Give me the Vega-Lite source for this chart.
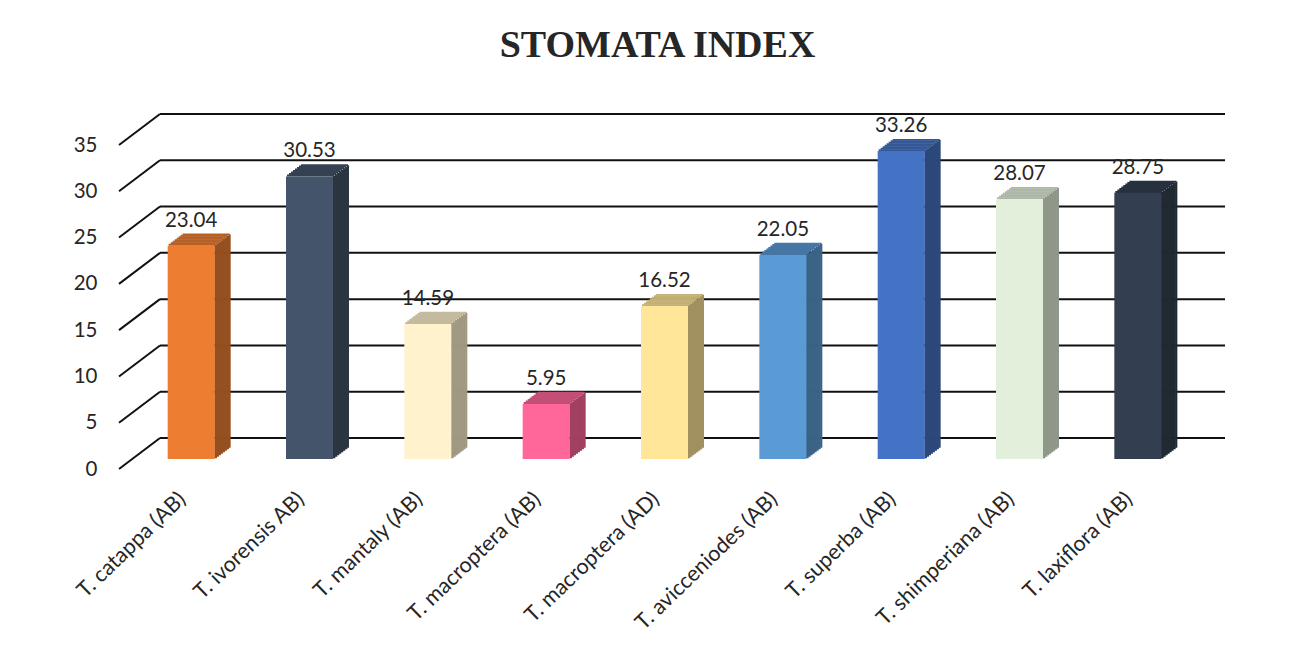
{
  "$schema": "https://vega.github.io/schema/vega-lite/v6.json",
  "width": 1065,
  "height": 324,
  "autosize": {"type": "none"},
  "padding": {"left": 119, "top": 145, "right": 112, "bottom": 193},
  "background": "white",
  "config": {"view": {"stroke": null}, "font": "Lato"},
  "title": {"text": "STOMATA INDEX", "font": "Liberation Serif", "fontSize": 38, "fontWeight": "bold", "color": "#262626", "anchor": "middle", "frame": "group", "dx": 6, "offset": 18, "baseline": "alphabetic"},
  "datasets": {
    "bars": [
      {"cat": "T. catappa (AB)", "value": 23.04},
      {"cat": "T. ivorensis AB)", "value": 30.53},
      {"cat": "T. mantaly (AB)", "value": 14.59},
      {"cat": "T. macroptera (AB)", "value": 5.95},
      {"cat": "T. macroptera (AD)", "value": 16.52},
      {"cat": "T. avicceniodes (AB)", "value": 22.05},
      {"cat": "T. superba (AB)", "value": 33.26},
      {"cat": "T. shimperiana (AB)", "value": 28.07},
      {"cat": "T. laxiflora (AB)", "value": 28.75}
    ],
    "grid": [{"v": 0}, {"v": 5}, {"v": 10}, {"v": 15}, {"v": 20}, {"v": 25}, {"v": 30}, {"v": 35}]
  },
  "layer": [
    {
      "data": {"name": "grid"},
      "mark": {"type": "rule", "color": "#111111", "strokeWidth": 2, "xOffset": 41, "x2Offset": 41, "yOffset": -31},
      "encoding": {
        "y": {"field": "v", "type": "quantitative", "scale": {"domain": [0, 35], "nice": false, "zero": true}, "title": null,
          "axis": {"values": [0, 5, 10, 15, 20, 25, 30, 35], "ticks": false, "domain": false, "grid": false, "labelPadding": 22, "labelFont": "Lato", "labelFontSize": 20.5, "labelColor": "#262626"}},
        "x": {"value": 0},
        "x2": {"value": "width"}
      }
    },
    {
      "data": {"name": "grid"},
      "mark": {"type": "rule", "color": "#111111", "strokeWidth": 2, "x2Offset": 41, "y2Offset": -31},
      "encoding": {
        "y": {"field": "v", "type": "quantitative"},
        "y2": {"field": "v"},
        "x": {"value": 0},
        "x2": {"value": 0}
      }
    },
    {
      "data": {"name": "bars"},
      "encoding": {
        "x": {"field": "cat", "type": "nominal", "sort": null, "title": null, "scale": {"paddingInner": 0, "paddingOuter": 0},
          "axis": {"labelAngle": -44, "labelAlign": "right", "labelBaseline": "top", "ticks": false, "tickSize": 0, "domain": false, "labelPadding": 19, "labelOffset": -3, "labelFont": "Lato", "labelFontSize": 21.5, "labelColor": "#262626", "labelLimit": 400}},
        "y": {"field": "value", "type": "quantitative", "title": null}
      },
      "resolve": {"scale": {"color": "independent"}},
      "layer": [
        {"mark": {"type": "bar", "size": 47, "xOffset": 14, "yOffset": -11.9, "y2Offset": -9.9}, "encoding": {"y2": {"field": "value"}, "color": {"field": "cat", "type": "nominal", "legend": null, "scale": {"domain": ["T. catappa (AB)", "T. ivorensis AB)", "T. mantaly (AB)", "T. macroptera (AB)", "T. macroptera (AD)", "T. avicceniodes (AB)", "T. superba (AB)", "T. shimperiana (AB)", "T. laxiflora (AB)"], "range": ["#B66026", "#344152", "#C4BA9D", "#C44F76", "#C4B176", "#4677A4", "#345897", "#AEB8A8", "#27303E"]}}}},
        {"mark": {"type": "bar", "size": 47, "xOffset": 16, "yOffset": -13.4, "y2Offset": -11.4}, "encoding": {"y2": {"field": "value"}, "color": {"field": "cat", "type": "nominal", "legend": null, "scale": {"domain": ["T. catappa (AB)", "T. ivorensis AB)", "T. mantaly (AB)", "T. macroptera (AB)", "T. macroptera (AD)", "T. avicceniodes (AB)", "T. superba (AB)", "T. shimperiana (AB)", "T. laxiflora (AB)"], "range": ["#B66026", "#344152", "#C4BA9D", "#C44F76", "#C4B176", "#4677A4", "#345897", "#AEB8A8", "#27303E"]}}}},
        {"mark": {"type": "bar", "size": 47, "xOffset": 18, "yOffset": -14.9, "y2Offset": -12.9}, "encoding": {"y2": {"field": "value"}, "color": {"field": "cat", "type": "nominal", "legend": null, "scale": {"domain": ["T. catappa (AB)", "T. ivorensis AB)", "T. mantaly (AB)", "T. macroptera (AB)", "T. macroptera (AD)", "T. avicceniodes (AB)", "T. superba (AB)", "T. shimperiana (AB)", "T. laxiflora (AB)"], "range": ["#B66026", "#344152", "#C4BA9D", "#C44F76", "#C4B176", "#4677A4", "#345897", "#AEB8A8", "#27303E"]}}}},
        {"mark": {"type": "bar", "size": 47, "xOffset": 20, "yOffset": -16.4, "y2Offset": -14.4}, "encoding": {"y2": {"field": "value"}, "color": {"field": "cat", "type": "nominal", "legend": null, "scale": {"domain": ["T. catappa (AB)", "T. ivorensis AB)", "T. mantaly (AB)", "T. macroptera (AB)", "T. macroptera (AD)", "T. avicceniodes (AB)", "T. superba (AB)", "T. shimperiana (AB)", "T. laxiflora (AB)"], "range": ["#B66026", "#344152", "#C4BA9D", "#C44F76", "#C4B176", "#4677A4", "#345897", "#AEB8A8", "#27303E"]}}}},
        {"mark": {"type": "bar", "size": 47, "xOffset": 22, "yOffset": -17.9, "y2Offset": -15.9}, "encoding": {"y2": {"field": "value"}, "color": {"field": "cat", "type": "nominal", "legend": null, "scale": {"domain": ["T. catappa (AB)", "T. ivorensis AB)", "T. mantaly (AB)", "T. macroptera (AB)", "T. macroptera (AD)", "T. avicceniodes (AB)", "T. superba (AB)", "T. shimperiana (AB)", "T. laxiflora (AB)"], "range": ["#B66026", "#344152", "#C4BA9D", "#C44F76", "#C4B176", "#4677A4", "#345897", "#AEB8A8", "#27303E"]}}}},
        {"mark": {"type": "bar", "size": 47, "xOffset": 24, "yOffset": -19.4, "y2Offset": -17.4}, "encoding": {"y2": {"field": "value"}, "color": {"field": "cat", "type": "nominal", "legend": null, "scale": {"domain": ["T. catappa (AB)", "T. ivorensis AB)", "T. mantaly (AB)", "T. macroptera (AB)", "T. macroptera (AD)", "T. avicceniodes (AB)", "T. superba (AB)", "T. shimperiana (AB)", "T. laxiflora (AB)"], "range": ["#B66026", "#344152", "#C4BA9D", "#C44F76", "#C4B176", "#4677A4", "#345897", "#AEB8A8", "#27303E"]}}}},
        {"mark": {"type": "bar", "size": 47, "xOffset": 26, "yOffset": -20.9, "y2Offset": -18.9}, "encoding": {"y2": {"field": "value"}, "color": {"field": "cat", "type": "nominal", "legend": null, "scale": {"domain": ["T. catappa (AB)", "T. ivorensis AB)", "T. mantaly (AB)", "T. macroptera (AB)", "T. macroptera (AD)", "T. avicceniodes (AB)", "T. superba (AB)", "T. shimperiana (AB)", "T. laxiflora (AB)"], "range": ["#B66026", "#344152", "#C4BA9D", "#C44F76", "#C4B176", "#4677A4", "#345897", "#AEB8A8", "#27303E"]}}}},
        {"mark": {"type": "bar", "size": 47, "xOffset": 28, "yOffset": -22.1, "y2Offset": -20.4}, "encoding": {"y2": {"field": "value"}, "color": {"field": "cat", "type": "nominal", "legend": null, "scale": {"domain": ["T. catappa (AB)", "T. ivorensis AB)", "T. mantaly (AB)", "T. macroptera (AB)", "T. macroptera (AD)", "T. avicceniodes (AB)", "T. superba (AB)", "T. shimperiana (AB)", "T. laxiflora (AB)"], "range": ["#B66026", "#344152", "#C4BA9D", "#C44F76", "#C4B176", "#4677A4", "#345897", "#AEB8A8", "#27303E"]}}}},
        {"mark": {"type": "bar", "size": 2.6, "xOffset": 37.5, "yOffset": -10.75, "y2Offset": -10.75}, "encoding": {"color": {"field": "cat", "type": "nominal", "legend": null, "scale": {"domain": ["T. catappa (AB)", "T. ivorensis AB)", "T. mantaly (AB)", "T. macroptera (AB)", "T. macroptera (AD)", "T. avicceniodes (AB)", "T. superba (AB)", "T. shimperiana (AB)", "T. laxiflora (AB)"], "range": ["#954F1F", "#2B3543", "#A19881", "#A14060", "#A19160", "#396286", "#2B487B", "#8E9789", "#202832"]}}}},
        {"mark": {"type": "bar", "size": 2.6, "xOffset": 39.5, "yOffset": -12.25, "y2Offset": -12.25}, "encoding": {"color": {"field": "cat", "type": "nominal", "legend": null, "scale": {"domain": ["T. catappa (AB)", "T. ivorensis AB)", "T. mantaly (AB)", "T. macroptera (AB)", "T. macroptera (AD)", "T. avicceniodes (AB)", "T. superba (AB)", "T. shimperiana (AB)", "T. laxiflora (AB)"], "range": ["#954F1F", "#2B3543", "#A19881", "#A14060", "#A19160", "#396286", "#2B487B", "#8E9789", "#202832"]}}}},
        {"mark": {"type": "bar", "size": 2.6, "xOffset": 41.5, "yOffset": -13.75, "y2Offset": -13.75}, "encoding": {"color": {"field": "cat", "type": "nominal", "legend": null, "scale": {"domain": ["T. catappa (AB)", "T. ivorensis AB)", "T. mantaly (AB)", "T. macroptera (AB)", "T. macroptera (AD)", "T. avicceniodes (AB)", "T. superba (AB)", "T. shimperiana (AB)", "T. laxiflora (AB)"], "range": ["#954F1F", "#2B3543", "#A19881", "#A14060", "#A19160", "#396286", "#2B487B", "#8E9789", "#202832"]}}}},
        {"mark": {"type": "bar", "size": 2.6, "xOffset": 43.5, "yOffset": -15.25, "y2Offset": -15.25}, "encoding": {"color": {"field": "cat", "type": "nominal", "legend": null, "scale": {"domain": ["T. catappa (AB)", "T. ivorensis AB)", "T. mantaly (AB)", "T. macroptera (AB)", "T. macroptera (AD)", "T. avicceniodes (AB)", "T. superba (AB)", "T. shimperiana (AB)", "T. laxiflora (AB)"], "range": ["#954F1F", "#2B3543", "#A19881", "#A14060", "#A19160", "#396286", "#2B487B", "#8E9789", "#202832"]}}}},
        {"mark": {"type": "bar", "size": 2.6, "xOffset": 45.5, "yOffset": -16.75, "y2Offset": -16.75}, "encoding": {"color": {"field": "cat", "type": "nominal", "legend": null, "scale": {"domain": ["T. catappa (AB)", "T. ivorensis AB)", "T. mantaly (AB)", "T. macroptera (AB)", "T. macroptera (AD)", "T. avicceniodes (AB)", "T. superba (AB)", "T. shimperiana (AB)", "T. laxiflora (AB)"], "range": ["#954F1F", "#2B3543", "#A19881", "#A14060", "#A19160", "#396286", "#2B487B", "#8E9789", "#202832"]}}}},
        {"mark": {"type": "bar", "size": 2.6, "xOffset": 47.5, "yOffset": -18.25, "y2Offset": -18.25}, "encoding": {"color": {"field": "cat", "type": "nominal", "legend": null, "scale": {"domain": ["T. catappa (AB)", "T. ivorensis AB)", "T. mantaly (AB)", "T. macroptera (AB)", "T. macroptera (AD)", "T. avicceniodes (AB)", "T. superba (AB)", "T. shimperiana (AB)", "T. laxiflora (AB)"], "range": ["#954F1F", "#2B3543", "#A19881", "#A14060", "#A19160", "#396286", "#2B487B", "#8E9789", "#202832"]}}}},
        {"mark": {"type": "bar", "size": 2.6, "xOffset": 49.5, "yOffset": -19.75, "y2Offset": -19.75}, "encoding": {"color": {"field": "cat", "type": "nominal", "legend": null, "scale": {"domain": ["T. catappa (AB)", "T. ivorensis AB)", "T. mantaly (AB)", "T. macroptera (AB)", "T. macroptera (AD)", "T. avicceniodes (AB)", "T. superba (AB)", "T. shimperiana (AB)", "T. laxiflora (AB)"], "range": ["#954F1F", "#2B3543", "#A19881", "#A14060", "#A19160", "#396286", "#2B487B", "#8E9789", "#202832"]}}}},
        {"mark": {"type": "bar", "size": 2.2, "xOffset": 51.4, "yOffset": -21.25, "y2Offset": -21.25}, "encoding": {"color": {"field": "cat", "type": "nominal", "legend": null, "scale": {"domain": ["T. catappa (AB)", "T. ivorensis AB)", "T. mantaly (AB)", "T. macroptera (AB)", "T. macroptera (AD)", "T. avicceniodes (AB)", "T. superba (AB)", "T. shimperiana (AB)", "T. laxiflora (AB)"], "range": ["#954F1F", "#2B3543", "#A19881", "#A14060", "#A19160", "#396286", "#2B487B", "#8E9789", "#202832"]}}}},
        {"mark": {"type": "bar", "size": 47, "xOffset": 13, "yOffset": -10, "y2Offset": -10}, "encoding": {"color": {"field": "cat", "type": "nominal", "legend": null, "scale": {"domain": ["T. catappa (AB)", "T. ivorensis AB)", "T. mantaly (AB)", "T. macroptera (AB)", "T. macroptera (AD)", "T. avicceniodes (AB)", "T. superba (AB)", "T. shimperiana (AB)", "T. laxiflora (AB)"], "range": ["#ED7D31", "#44546A", "#FFF2CC", "#FF6699", "#FFE699", "#5B9BD5", "#4472C4", "#E2EFDA", "#333F50"]}}}},
        {"mark": {"type": "text", "xOffset": 13, "yOffset": -29, "baseline": "alphabetic", "font": "Lato", "fontSize": 20.5, "color": "#262626"}, "encoding": {"text": {"field": "value", "type": "quantitative", "format": ".2f"}}}
      ]
    }
  ]
}
